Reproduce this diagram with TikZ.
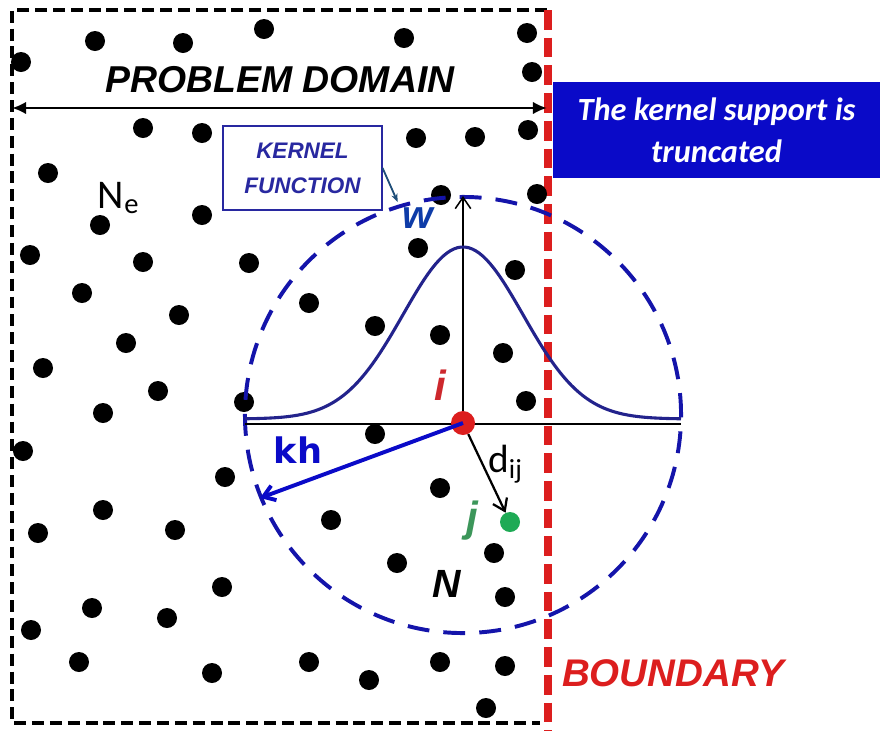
\documentclass[tikz,border=0pt]{standalone}
\usepackage{fontspec}
\setmainfont{Liberation Sans}
\newfontfamily\calibrifont{Carlito}
\newfontfamily\dejavufont{DejaVu Sans}
\usetikzlibrary{arrows.meta}
\definecolor{domred}{RGB}{220,30,30}
\definecolor{supblue}{RGB}{10,10,200}
\definecolor{circblue}{RGB}{20,20,170}
\definecolor{kernavy}{RGB}{35,35,140}
\definecolor{boxnavy}{RGB}{40,40,160}
\definecolor{jgreen}{RGB}{30,170,85}
\definecolor{jlabel}{RGB}{60,150,90}
\definecolor{tealblue}{RGB}{31,78,121}
\definecolor{labelred}{RGB}{205,40,45}
\newcommand{\fs}[2]{\fontsize{#1}{#2}\selectfont}

\begin{document}
\begin{tikzpicture}[x=0.025cm,y=-0.025cm,
	particle/.style={circle,fill=#1,inner sep=0pt,minimum size=0.5cm},
	frameline/.style={line width=2.4pt,dash pattern=on 8.5pt off 4.2pt},
	boundline/.style={domred,line width=5pt,dash pattern=on 14pt off 5.7pt},
	barb/.style={-{Straight Barb[length=8pt,width=11pt]}}]
	\useasboundingbox (0,0) rectangle (880,731);
	% domain and truncating boundary
	\draw[frameline] (547,10) -- (12,10) -- (12,723) -- (540,723);
	\draw[boundline] (548,10) -- (548,731);
	\coordinate (pdl) at (12,108);
	\coordinate (pdr) at (547,108);
	\draw[line width=2.1pt,{Latex[length=10pt,width=9pt]}-{Latex[length=10pt,width=9pt]}] (pdl) -- (pdr);
	\node[anchor=base,font=\fs{26.6}{30}\bfseries\itshape] (pd) at (280,92) {PROBLEM DOMAIN};
	% particles
	\foreach \px/\py in {21/62,95/41,183/43,264/29,404/38,527/33,532/72,
		143/128,202/133,416/138,475/137,528/130,
		48/173,100/225,202/215,441/195,537/194,
		30/255,143/262,249/263,82/293,179/315,126/343,43/368,158/391,103/413,244/402,
		418/248,515/270,309/303,375/326,440/335,503/353,526/401,375/434,
		23/451,225/477,103/510,38/533,175/530,222/587,92/608,167/618,31/630,79/662,212/673,
		440/488,331/520,494/553,397/563,505/597,309/662,369/680,440/662,505/666,486/708}
		\fill (\px,\py) circle[radius=0.25cm];
	% support domain
	\draw[circblue,line width=2.8pt,dash pattern=on 15.6pt off 10pt] (463,415) circle[radius=5.45cm];
	\draw[line width=1.1pt] (245,424) -- (681,424);
	\coordinate (wtop) at (463,196);
	\draw[line width=1.1pt,barb] (463,424) -- (wtop);
	\draw[kernavy,line width=2.2pt] plot[domain=-218:218,samples=120] ({463+\x},{419-172*exp(-0.5*(\x/60)^2)});
	% particle i and neighbour j
	\node[particle=domred,minimum size=0.6cm] (i) at (463,423) {};
	\node[particle=jgreen] (j) at (510,522) {};
	\coordinate (khend) at (260,498);
	\draw[supblue,line width=2.8pt,barb] (i.center) -- (khend);
	\draw[line width=1.6pt,barb] (i) -- (j);
	\node[anchor=base,fill=white,inner sep=1pt,text=supblue,font=\dejavufont\fs{25}{30}\bfseries] (kh) at (298,463) {kh};
	\node[anchor=base west,inner sep=0pt,font=\calibrifont\fs{28}{30}] (dij) at (488,472) {d\textsubscript{ij}};
	\node[anchor=base,text=labelred,font=\fs{30}{30}\bfseries\itshape] (ilbl) at (440,400) {i};
	\node[anchor=base,text=jlabel,font=\fs{30}{30}\bfseries\itshape] (jlbl) at (472,531) {j};
	\node[anchor=base,font=\fs{28}{30}\bfseries\itshape] (nlbl) at (447,597) {N};
	\node[anchor=base west,font=\calibrifont\fs{29}{30}] (ne) at (93,208) {N\textsubscript{e}};
	% labels
	\node[draw=boxnavy,line width=0.8pt,minimum width=3.975cm,minimum height=2.1cm,align=center,text=boxnavy,
		font=\fs{16}{25}\bfseries\itshape] (kbox) at (302.5,168) {KERNEL\\FUNCTION};
	\node[anchor=base,text=circblue!80!cyan!90!black,font=\fs{28}{30}\bfseries\itshape] (wlbl) at (418,228) {w};
	\draw[tealblue,line width=1.3pt,-{Stealth[length=6pt]}] (kbox.east) -- (wlbl.north west);
	\node[fill=supblue,minimum width=8.175cm,minimum height=2.4cm,align=center,text=white,
		font=\calibrifont\fs{23}{30}\bfseries\itshape] (trunc) at (716.5,130) {The kernel support is\\truncated};
	\node[anchor=base,text=domred,font=\fs{27.4}{30}\bfseries\itshape] (bnd) at (673,686) {BOUNDARY};
\end{tikzpicture}
\end{document}
